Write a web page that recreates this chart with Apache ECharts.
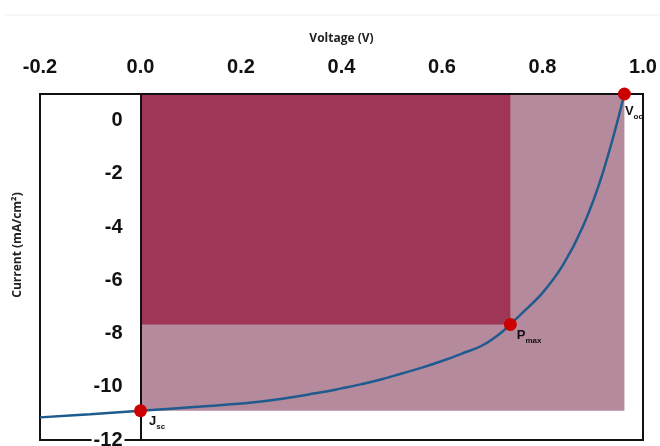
<!DOCTYPE html>
<html>
<head>
<meta charset="utf-8">
<script src="https://cdn.jsdelivr.net/npm/echarts@6/dist/echarts.min.js"></script>
<style>
html,body{margin:0;padding:0;background:#fff;}
#chart{width:660px;height:446px;}
</style>
</head>
<body>
<div id="chart"></div>
<script>
// J-V curve
const voltage = [-0.2, -0.1, 0, 0.12, 0.24, 0.36, 0.40, 0.44, 0.48, 0.52, 0.56, 0.60, 0.64, 0.68, 0.72, 0.76, 0.80, 0.84, 0.88, 0.92, 0.963];
const current = [-11.15, -11.03, -10.9, -10.74, -10.55, -10.21, -10.06, -9.9, -9.72, -9.5, -9.28, -9.03, -8.75, -8.45, -7.93, -7.22, -6.47, -5.45, -4.0, -1.96, 1.0];

// key points: Jsc, Pmax, Voc
const keyNames = ['Jsc', 'Pmax', 'Voc'];
const keyV = [0, 0.736, 0.963];
const keyJ = [-10.9, -7.66, 1.0];

// axis ticks
const xTicks = [-0.2, 0.0, 0.2, 0.4, 0.6, 0.8, 1.0];
const yTicks = [-12, -10, -8, -6, -4, -2, 0];
const yTop = 1;

const chart = echarts.init(document.getElementById('chart'));

const subLabel = {
  Jsc: '{m|J}{s|sc}',
  Pmax: '{m|P}{s|max}',
  Voc: '{m|V}{s|oc}'
};
const labelOffsets = { Jsc: [15, 10], Pmax: [13, 10], Voc: [7, 16] };

const rich = {
  m: { fontFamily: 'Liberation Sans, Arial, sans-serif', fontWeight: 'bold', fontSize: 13, color: '#111', verticalAlign: 'bottom', lineHeight: 14 },
  s: { fontFamily: 'Liberation Sans, Arial, sans-serif', fontWeight: 'bold', fontSize: 8, color: '#111', verticalAlign: 'bottom', lineHeight: 10, padding: [0, 0, -3, 0] }
};

const curveData = voltage.map((v, i) => [v, current[i]]);
const keyData = keyV.map((v, i) => ({
  value: [v, keyJ[i]],
  label: {
    show: true,
    formatter: subLabel[keyNames[i]],
    position: labelOffsets[keyNames[i]],
    align: 'left',
    verticalAlign: 'top',
    rich: rich
  }
}));

const axisFont = { fontFamily: 'Liberation Sans, Arial, sans-serif', fontWeight: 'bold', fontSize: 20, color: '#111' };

const gridLeft = 40, gridRight = 17;
const plotWidth = 660 - gridLeft - gridRight;
// y axis sits at voltage 0
const yAxisOffset = -plotWidth * (0 - xTicks[0]) / (xTicks[xTicks.length - 1] - xTicks[0]);

const option = {
  animation: false,
  backgroundColor: '#fff',
  grid: {
    left: gridLeft, right: gridRight, top: 94, bottom: 6,
    containLabel: false,
    outerBoundsMode: 'none',
    show: true, borderColor: '#111', borderWidth: 2, backgroundColor: 'transparent'
  },
  xAxis: {
    type: 'value',
    position: 'top',
    min: xTicks[0], max: xTicks[xTicks.length - 1], interval: 0.2,
    z: 3,
    name: 'Voltage (V)',
    nameLocation: 'middle',
    nameGap: 49,
    nameTextStyle: { fontFamily: 'Open Sans, sans-serif', fontWeight: 'bold', fontSize: 12, color: '#222' },
    axisLine: { show: true, onZero: false, lineStyle: { color: '#111', width: 2 } },
    axisTick: { show: false },
    splitLine: { show: false },
    axisLabel: Object.assign({ margin: 17, formatter: v => v.toFixed(1) }, axisFont)
  },
  yAxis: {
    type: 'value',
    position: 'left',
    offset: yAxisOffset,
    min: yTicks[0], max: yTop, interval: 2,
    z: 3,
    axisLine: { show: true, onZero: false, lineStyle: { color: '#111', width: 2 } },
    axisTick: { show: false },
    splitLine: { show: false },
    axisLabel: Object.assign({
      margin: 16,
      backgroundColor: '#fff',
      padding: [0, 2, 0, 2],
      formatter: v => (yTicks.indexOf(v) >= 0 ? String(v) : '')
    }, axisFont)
  },
  graphic: [
    { type: 'line', shape: { x1: 5, y1: 15, x2: 660, y2: 15 }, style: { stroke: '#eeeeee', lineWidth: 1 }, silent: true },
    {
      type: 'text', x: 18, y: 245, rotation: Math.PI / 2,
      style: { text: 'Current (mA/cm²)', font: 'bold 12px "Open Sans", sans-serif', fill: '#222', align: 'center', verticalAlign: 'middle' },
      silent: true
    },
    {
      type: 'group', z: 10, silent: true,
      children: [
        { type: 'text', x: 183, y: 239, style: { text: 'PCE =', font: '15px "Liberation Serif", serif', fill: '#f3dde5', align: 'left', verticalAlign: 'middle' } },
        { type: 'text', x: 241, y: 230, style: { text: 'Pmax', font: 'italic 13px "Liberation Serif", serif', fill: '#f3dde5', align: 'center', verticalAlign: 'middle' } },
        { type: 'line', shape: { x1: 223, y1: 238, x2: 259, y2: 238 }, style: { stroke: '#f3dde5', lineWidth: 1 } },
        { type: 'text', x: 242, y: 247, style: { text: 'Pin', font: 'italic 13px "Liberation Serif", serif', fill: '#f3dde5', align: 'center', verticalAlign: 'middle' } },
        { type: 'text', x: 270, y: 239, style: { text: '=', font: '14px "Liberation Serif", serif', fill: '#f3dde5', align: 'center', verticalAlign: 'middle' } },
        { type: 'text', x: 310, y: 229, style: { text: 'Voc∗FF∗Jsc', font: 'italic 13px "Liberation Serif", serif', fill: '#f3dde5', align: 'center', verticalAlign: 'middle' } },
        { type: 'line', shape: { x1: 277, y1: 237, x2: 343, y2: 237 }, style: { stroke: '#f3dde5', lineWidth: 1 } },
        { type: 'text', x: 310, y: 247, style: { text: 'Pin', font: 'italic 13px "Liberation Serif", serif', fill: '#f3dde5', align: 'center', verticalAlign: 'middle' } }
      ]
    }
  ],
  series: [
    {
      type: 'line',
      data: curveData,
      smooth: 0.4,
      showSymbol: false,
      symbol: 'none',
      z: 4,
      lineStyle: { color: '#1f5b8e', width: 2.5 },
      markArea: {
        silent: true,
        data: [
          [
            { coord: [keyV[0], yTop], itemStyle: { color: '#b58a9c', opacity: 1 } },
            { coord: [keyV[2], keyJ[0]] }
          ],
          [
            { coord: [keyV[0], yTop], itemStyle: { color: '#a03656', opacity: 1 } },
            { coord: [keyV[1], keyJ[1]] }
          ]
        ]
      }
    },
    {
      type: 'scatter',
      data: keyData,
      symbolSize: 13,
      z: 6,
      itemStyle: { color: '#cc0000', opacity: 1 }
    }
  ]
};

chart.setOption(option);
</script>
</body>
</html>
